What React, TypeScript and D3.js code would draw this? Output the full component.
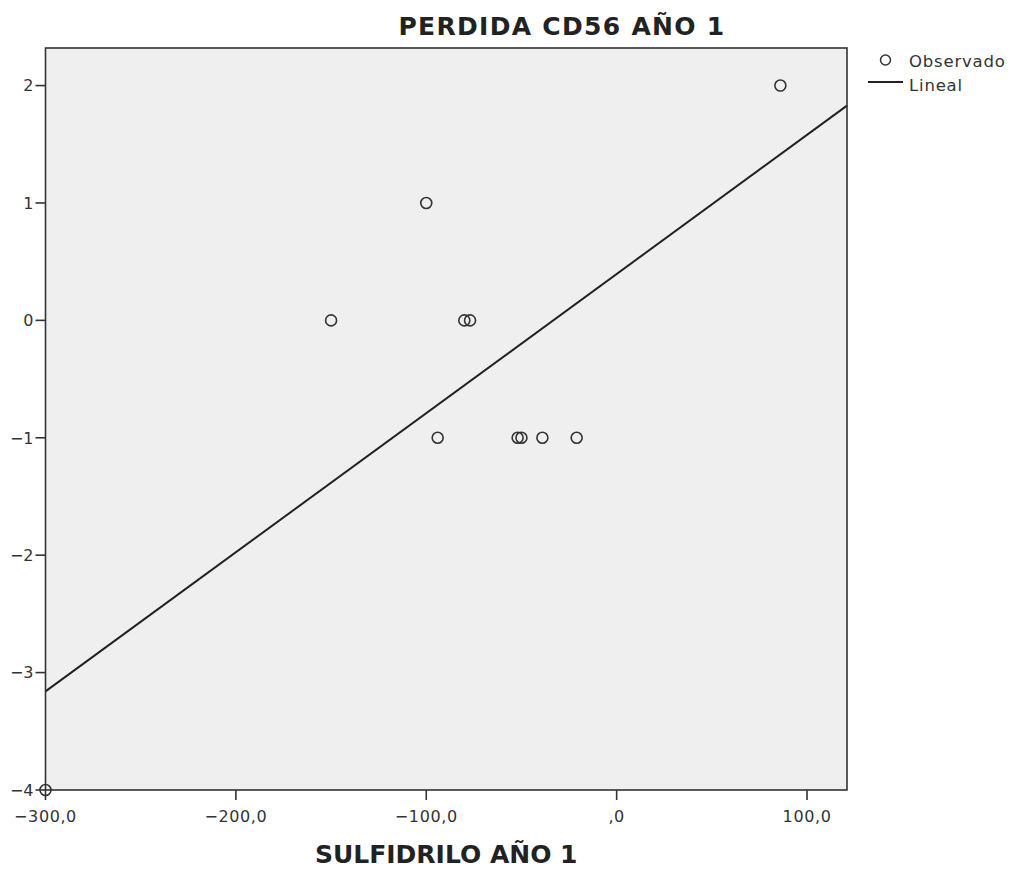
import React from 'react';
import * as d3 from 'd3';

const sulfidrilo = [-300, -150, -100, -94, -80, -77, -52, -50, -39, -21, 86];
const perdida = [-4, 0, 1, -1, 0, 0, -1, -1, -1, -1, 2];
const xTicks = [-300, -200, -100, 0, 100];
const yTicks = [-4, -3, -2, -1, 0, 1, 2];
const fitIntercept = 0.395;
const fitSlope = 0.01185;

const W = 1015;
const H = 872;
const margin = { left: 45.5, top: 48, right: 168, bottom: 82 };
const font = '"DejaVu Sans", Verdana, sans-serif';

export default function App() {
  const innerW = W - margin.left - margin.right;
  const innerH = H - margin.top - margin.bottom;

  const x = d3.scaleLinear().domain([-300, 121]).range([0, innerW]);
  const y = d3.scaleLinear().domain([-4, 2.32]).range([innerH, 0]);

  const pts = sulfidrilo.map((v, i) => ({ x: v, y: perdida[i] }));
  const fitX = x.domain();
  const line = d3
    .line<number>()
    .x((d) => x(d))
    .y((d) => y(fitIntercept + fitSlope * d));

  const fmtX = (v: number) => (v === 0 ? ',0' : v.toFixed(1).replace('.', ',').replace('-', '\u2212'));
  const fmtY = (v: number) => String(v).replace('-', '\u2212');

  return (
    <svg width={W} height={H} style={{ position: 'absolute', left: 0, top: 0 }} fontFamily={font}>
      <rect width={W} height={H} fill="#fff" />
      <g transform={`translate(${margin.left},${margin.top})`}>
        <rect width={innerW} height={innerH} fill="#efefef" />
        <path d={line(fitX) ?? ''} fill="none" stroke="#222" strokeWidth={2} />
        {pts.map((p, i) => (
          <circle key={i} cx={x(p.x)} cy={y(p.y)} r={5.5} fill="none" stroke="#333" strokeWidth={1.6} />
        ))}
        <rect width={innerW} height={innerH} fill="none" stroke="#333" strokeWidth={1.6} />
        {yTicks.map((t) => (
          <g key={t} transform={`translate(0,${y(t)})`}>
            <line x1={-10} x2={0} stroke="#333" strokeWidth={1.6} />
            <text x={-12} dy="0.36em" textAnchor="end" fontSize={16} fill="#333">
              {fmtY(t)}
            </text>
          </g>
        ))}
        {xTicks.map((t) => (
          <g key={t} transform={`translate(${x(t)},${innerH})`}>
            <line y1={0} y2={10} stroke="#333" strokeWidth={1.6} />
            <text y={32} textAnchor="middle" fontSize={16} letterSpacing={0.6} fill="#333">
              {fmtX(t)}
            </text>
          </g>
        ))}
      </g>
      <text x={562} y={35} textAnchor="middle" fontSize={25} fontWeight="bold" letterSpacing={1.3} fill="#222">
        PERDIDA CD56 AÑO 1
      </text>
      <text x={margin.left + innerW / 2} y={863} textAnchor="middle" fontSize={25} fontWeight="bold" fill="#222">
        SULFIDRILO AÑO 1
      </text>
      <g fontSize={16.5} fill="#333">
        <circle cx={885.5} cy={60} r={5} fill="none" stroke="#333" strokeWidth={1.5} />
        <text x={909} y={67} letterSpacing={0.8}>Observado</text>
        <line x1={868} x2={903} y1={82} y2={82} stroke="#222" strokeWidth={2} />
        <text x={909} y={91} letterSpacing={0.8}>Lineal</text>
      </g>
    </svg>
  );
}
